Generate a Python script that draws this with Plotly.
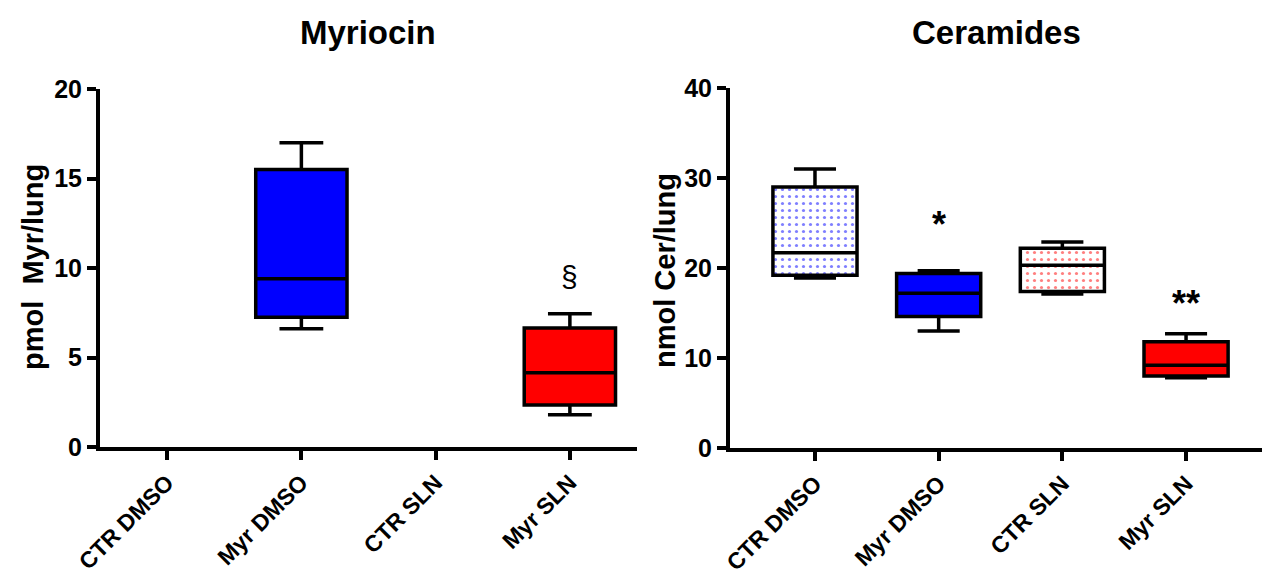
import plotly.graph_objects as go

categories = ["CTR DMSO", "Myr DMSO", "CTR SLN", "Myr SLN"]

# Myriocin (pmol Myr/lung) – only Myr groups have data
myr_groups = ["Myr DMSO", "Myr SLN"]
myr_lowerfence = [6.6, 1.8]
myr_q1 = [7.25, 2.35]
myr_median = [9.4, 4.15]
myr_q3 = [15.5, 6.65]
myr_upperfence = [17.0, 7.45]
myr_colors = ["#0000FF", "#FF0000"]

# Ceramides (nmol Cer/lung)
cer_groups = ["CTR DMSO", "Myr DMSO", "CTR SLN", "Myr SLN"]
cer_lowerfence = [18.9, 13.0, 17.1, 7.8]
cer_q1 = [19.2, 14.6, 17.4, 8.0]
cer_median = [21.7, 17.2, 20.3, 9.2]
cer_q3 = [29.0, 19.4, 22.2, 11.8]
cer_upperfence = [31.0, 19.7, 22.9, 12.7]
cer_colors = ["#0000FF", "#0000FF", "#FF0000", "#FF0000"]
cer_patterned = [True, False, True, False]

FONT = "Liberation Sans, Arial, sans-serif"
W, H = 1262, 578

fig = go.Figure()

BOXW = 0.68
LW = 3.5

# Left panel boxes
for i, g in enumerate(myr_groups):
    fig.add_trace(go.Box(
        x=[g], q1=[myr_q1[i]], median=[myr_median[i]], q3=[myr_q3[i]],
        lowerfence=[myr_lowerfence[i]], upperfence=[myr_upperfence[i]],
        fillcolor=myr_colors[i], line=dict(color="black", width=LW),
        width=BOXW, whiskerwidth=0.48, boxpoints=False,
        xaxis="x", yaxis="y", showlegend=False, hoverinfo="skip"))

# Right panel: pattern underlay bars for dotted boxes
for i, g in enumerate(cer_groups):
    if cer_patterned[i]:
        fig.add_trace(go.Bar(
            x=[g], y=[cer_q3[i] - cer_q1[i]], base=[cer_q1[i]], width=BOXW,
            marker=dict(color="white", line=dict(width=0),
                        pattern=dict(shape=".", fgcolor=cer_colors[i], bgcolor="white",
                                     size=7, solidity=0.16, fillmode="overlay")),
            xaxis="x2", yaxis="y2", showlegend=False, hoverinfo="skip"))

for i, g in enumerate(cer_groups):
    fill = "rgba(0,0,0,0)" if cer_patterned[i] else cer_colors[i]
    fig.add_trace(go.Box(
        x=[g], q1=[cer_q1[i]], median=[cer_median[i]], q3=[cer_q3[i]],
        lowerfence=[cer_lowerfence[i]], upperfence=[cer_upperfence[i]],
        fillcolor=fill, line=dict(color="black", width=LW),
        width=BOXW, whiskerwidth=0.5, boxpoints=False,
        xaxis="x2", yaxis="y2", showlegend=False, hoverinfo="skip"))

axis_common = dict(showline=True, linewidth=4, linecolor="black", ticks="outside",
                   ticklen=9, tickwidth=4, tickcolor="black", showgrid=False,
                   zeroline=False, automargin=False)
xfont = dict(family=FONT, size=23, color="black", weight="bold")
yfont = dict(family=FONT, size=25, color="black", weight="bold")

fig.update_layout(
    width=W, height=H,
    margin=dict(l=0, r=0, t=0, b=0),
    paper_bgcolor="white", plot_bgcolor="white",
    barmode="overlay", boxmode="overlay",
    xaxis=dict(domain=[100 / W, 637 / W], type="category", categoryorder="array",
               categoryarray=categories, range=[-0.5, 3.5], tickangle=-45,
               tickfont=xfont, anchor="y", **axis_common),
    yaxis=dict(domain=[(H - 447) / H, (H - 89) / H], range=[0, 20], dtick=5,
               tickfont=yfont, anchor="x", **axis_common),
    xaxis2=dict(domain=[730 / W, 1.0], type="category", categoryorder="array",
                categoryarray=categories, range=[-0.687, 3.614], tickangle=-45,
                tickfont=xfont, anchor="y2", **axis_common),
    yaxis2=dict(domain=[(H - 448) / H, (H - 88) / H], range=[0, 40], dtick=10,
                tickfont=yfont, anchor="x2", **axis_common),
)

# Titles
title_font = dict(family=FONT, size=33, color="black", weight="bold")
fig.add_annotation(text="Myriocin", xref="paper", yref="paper", x=368 / W, y=(H - 33) / H,
                   showarrow=False, font=title_font, xanchor="center", yanchor="middle")
fig.add_annotation(text="Ceramides", xref="paper", yref="paper", x=996 / W, y=(H - 33) / H,
                   showarrow=False, font=title_font, xanchor="center", yanchor="middle")

# Y-axis titles
ytitle_font = dict(family=FONT, size=29, color="black", weight="bold")
fig.add_annotation(text="pmol  Myr/lung", xref="paper", yref="paper", x=33 / W, y=(H - 267) / H,
                   showarrow=False, textangle=-90, font=ytitle_font,
                   xanchor="center", yanchor="middle")
fig.add_annotation(text="nmol Cer/lung", xref="paper", yref="paper", x=665 / W, y=(H - 271) / H,
                   showarrow=False, textangle=-90, font=ytitle_font,
                   xanchor="center", yanchor="middle")

# Significance marks
fig.add_annotation(text="§", xref="x", yref="y", x="Myr SLN", y=myr_upperfence[1],
                   yshift=37, showarrow=False,
                   font=dict(family=FONT, size=30, color="black"))
fig.add_annotation(text="*", xref="x2", yref="y2", x="Myr DMSO", y=cer_upperfence[1],
                   yshift=46, showarrow=False,
                   font=dict(family=FONT, size=36, color="black", weight="bold"))
fig.add_annotation(text="**", xref="x2", yref="y2", x="Myr SLN", y=cer_upperfence[3],
                   yshift=30, showarrow=False,
                   font=dict(family=FONT, size=36, color="black", weight="bold"))

fig.write_html("out.html")
